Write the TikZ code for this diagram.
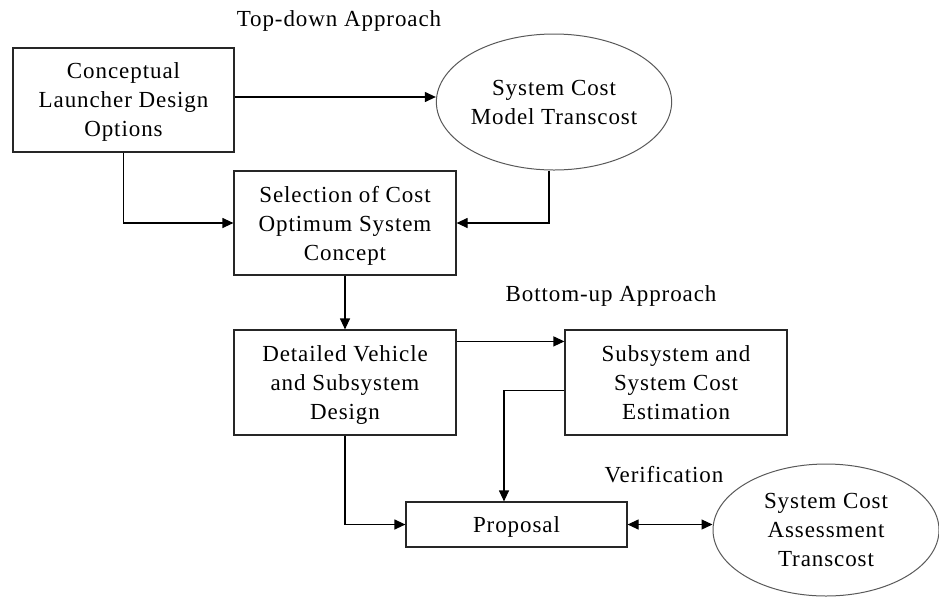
\documentclass[tikz,border=0pt]{standalone}
\usepackage{fontspec}
\setmainfont[LetterSpace=4]{Liberation Serif}
\usetikzlibrary{arrows.meta,shapes.geometric,calc}
\begin{document}
\begin{tikzpicture}[x=1pt,y=-1pt,
  every node/.style={font=\fontsize{23}{29}\selectfont, align=center, inner sep=0pt},
  box/.style={draw=black!85, line width=1.2pt, rectangle, text depth=-3pt},
  oval/.style={draw=black!65, line width=1pt, ellipse},
  arr/.style={draw=black, line width=1.2pt, -{Triangle[length=11pt,width=10pt]}},
  darr/.style={draw=black, line width=1.2pt, {Triangle[length=11pt,width=10pt]}-{Triangle[length=11pt,width=10pt]}},
  lbl/.style={}]
\useasboundingbox (0,0) rectangle (939,598);
\node[box, minimum width=221pt, minimum height=104pt] (A) at (123.5,100) {Conceptual\\Launcher Design\\Options};
\node[oval, minimum width=228pt, minimum height=136pt] (B) at (554,102) {System Cost\\Model Transcost};
\node[box, minimum width=222pt, minimum height=104pt] (C) at (345,223) {Selection of Cost\\Optimum System\\Concept};
\node[box, minimum width=222pt, minimum height=105pt] (D) at (345,382.5) {Detailed Vehicle\\and Subsystem\\Design};
\node[box, minimum width=222pt, minimum height=105pt] (E) at (676,382.5) {Subsystem and\\System Cost\\Estimation};
\node[box, minimum width=221pt, minimum height=45pt] (F) at (516.5,524.5) {Proposal};
\node[oval, minimum width=226pt, minimum height=132pt] (G) at (826,530) {System Cost\\Assessment\\Transcost};
\node[lbl] (T1) at (339,21) {Top-down Approach};
\node[lbl] (T2) at (611,296) {Bottom-up Approach};
\node[lbl] (T3) at (664,475) {Verification};
\draw[arr] ([yshift=3pt]A.east) -- ([yshift=3pt]A.east -| B.west);
\draw[arr] (A.south) |- (C.west);
\draw[arr] ([xshift=-5pt]B.south) |- (C.east);
\draw[arr] (C.south) -- (D.north);
\draw[arr] ([yshift=-12pt]D.north east) -- ([yshift=-12pt]D.north east -| E.west);
\draw[arr] ([yshift=-61pt]E.north west) -| ([xshift=-12.5pt]F.north);
\draw[arr] (D.south) |- (F.west);
\draw[darr] (F.east) -- (F.east -| G.west);
\end{tikzpicture}
\end{document}
